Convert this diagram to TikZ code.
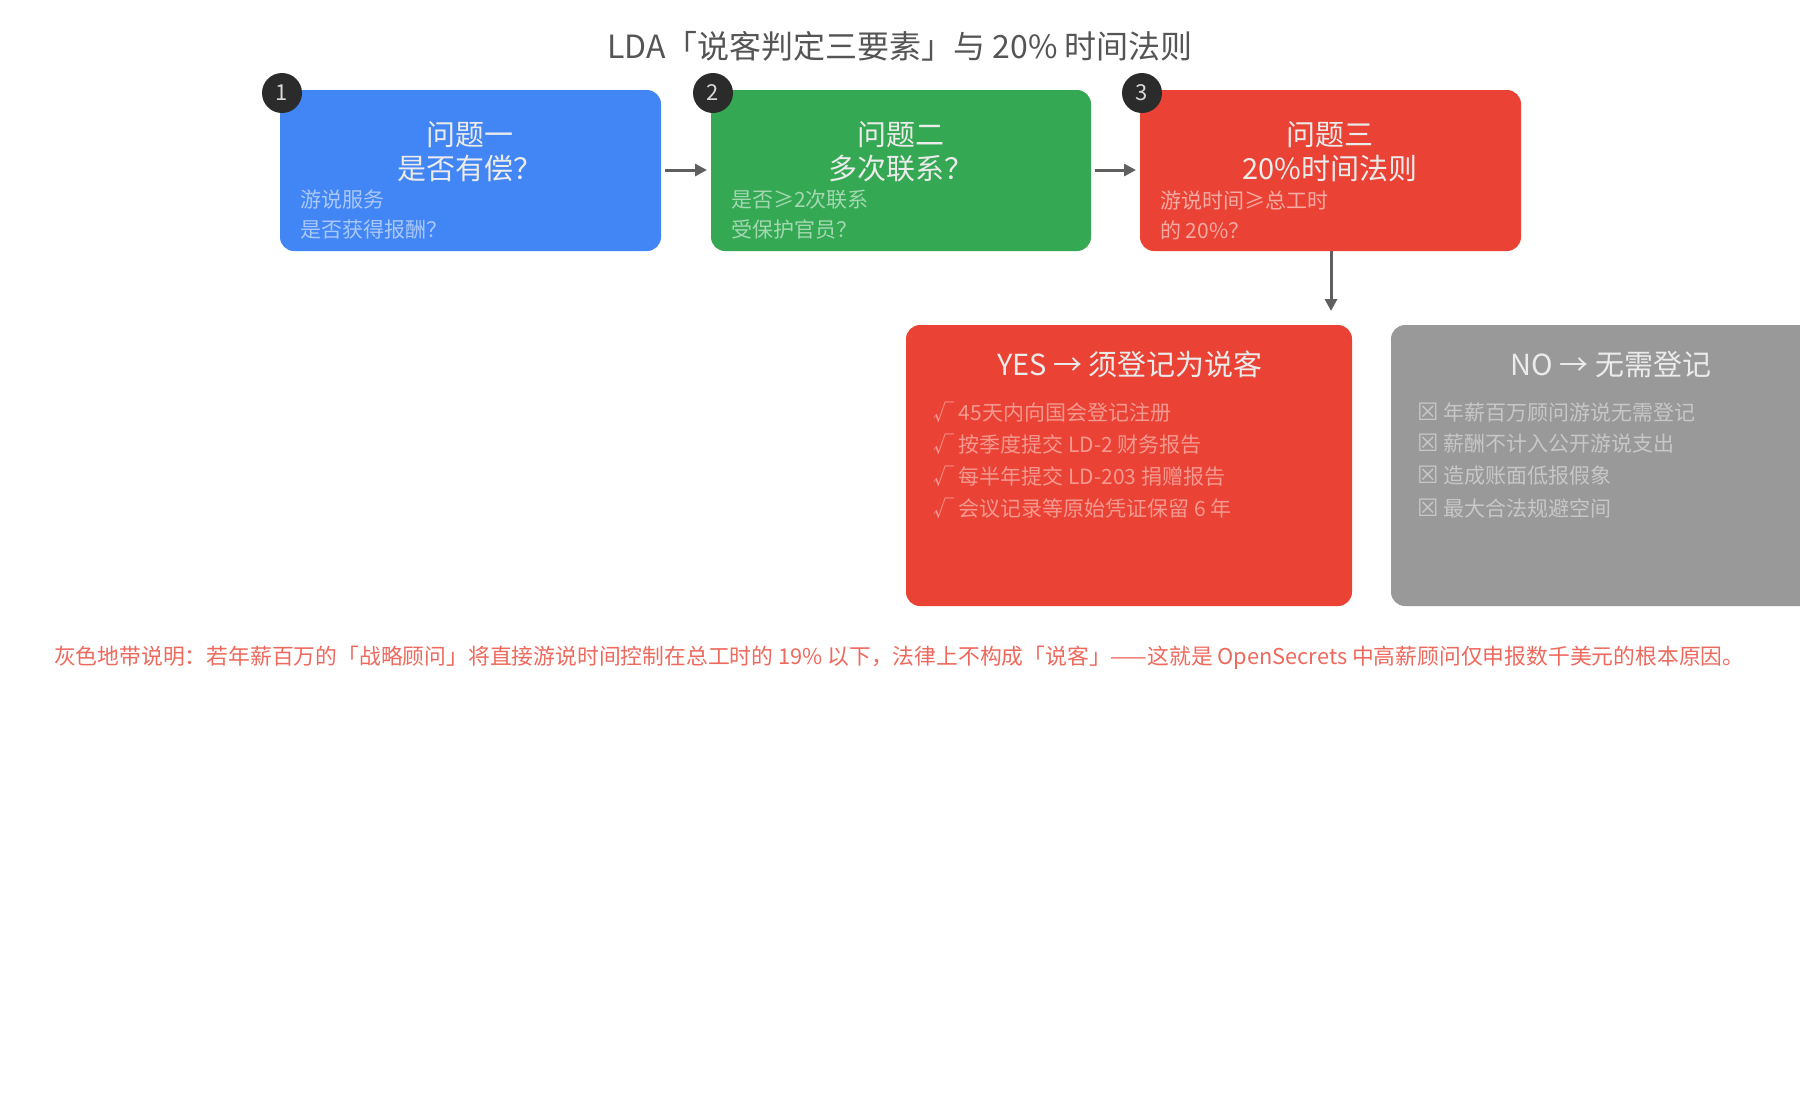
\documentclass[tikz,border=0pt]{standalone}
\usepackage{fontspec}
\setmainfont{Noto Sans CJK SC}
\newfontfamily\djv{DejaVu Sans}
\usetikzlibrary{arrows.meta}
\definecolor{gblue}{HTML}{4285F4}
\definecolor{ggreen}{HTML}{34A853}
\definecolor{gred}{HTML}{EA4335}
\definecolor{ggray}{HTML}{999999}
\definecolor{dark}{HTML}{2B2B2B}
\definecolor{arr}{HTML}{5F5F5F}
\begin{document}
\begin{tikzpicture}[x=0.5pt,y=-0.5pt,
 num/.style={circle,fill=dark,minimum size=20pt,inner sep=0,text=white!85!black,font=\fontsize{11}{11}\selectfont},
 head/.style={text=white!92!black,font=\fontsize{14.5}{17}\selectfont,align=center},
 sub/.style={anchor=west,font=\fontsize{10.5}{15}\selectfont,align=left},
 li/.style={anchor=west,font=\fontsize{10.5}{12}\selectfont},
 ar/.style={arr,line width=1.5pt,-{Triangle[length=6pt,width=6pt]}}]
\useasboundingbox (0,0) rectangle (1800,1100);
\node[font=\fontsize{16}{16}\selectfont,text=dark!80] (title) at (900,46) {LDA「说客判定三要素」与 20\% 时间法则};
\fill[gblue,rounded corners=7pt] (280,90) rectangle (661,251);
\fill[ggreen,rounded corners=7pt] (711,90) rectangle (1091,251);
\fill[gred,rounded corners=7pt] (1140,90) rectangle (1521,251);
\coordinate (b1e) at (665,170); \coordinate (b2w) at (707,170);
\coordinate (b2e) at (1095,170); \coordinate (b3w) at (1136,170);
\coordinate (b3s) at (1331,251); \coordinate (yn) at (1331,311);
\node[num] (n1) at (282,93) {1};
\node[num] (n2) at (713,93) {2};
\node[num] (n3) at (1142,93) {3};
\node[head] (h1) at (470,152) {问题一\\是否有偿？};
\node[head] (h2) at (901,152) {问题二\\多次联系？};
\node[head] (h3) at (1330,152) {问题三\\20\%时间法则};
\node[sub,text=white!55!gblue] (s1) at (293,215) {游说服务\\是否获得报酬？};
\node[sub,text=white!55!ggreen] (s2) at (724,215) {是否≥2次联系\\受保护官员？};
\node[sub,text=white!55!gred] (s3) at (1153,215) {游说时间≥总工时\\的 20\%？};
\draw[ar] (b1e) -- (b2w);
\draw[ar] (b2e) -- (b3w);
\draw[ar] (b3s) -- (yn);
\fill[gred,rounded corners=7pt] (906,325) rectangle (1352,606);
\fill[ggray,rounded corners=7pt] (1391,325) rectangle (1830,606);
\node[head] (yes) at (1130,364) {YES → 须登记为说客};
\node[head] (no) at (1611,364) {NO → 无需登记};
\foreach \t [count=\i] in {√ 45天内向国会登记注册,√ 按季度提交 LD-2 财务报告,√ 每半年提交 LD-203 捐赠报告,√ 会议记录等原始凭证保留 6 年}
  \node[li,text=white!45!gred] (y\i) at (926,{380+32*\i}) {\t};
\foreach \t [count=\i] in {年薪百万顾问游说无需登记,薪酬不计入公开游说支出,造成账面低报假象,最大合法规避空间}
  \node[li,text=white!45!ggray] (x\i) at (1410,{380+32*\i}) {{\djv\fontsize{12}{12}\selectfont\char"2612}\ \t};
\node[anchor=west,text=gred!80,font=\fontsize{10.9}{12}\selectfont] (foot) at (47,658) {灰色地带说明：若年薪百万的「战略顾问」将直接游说时间控制在总工时的 19\% 以下，法律上不构成「说客」——这就是 OpenSecrets 中高薪顾问仅申报数千美元的根本原因。};
\end{tikzpicture}
\end{document}
